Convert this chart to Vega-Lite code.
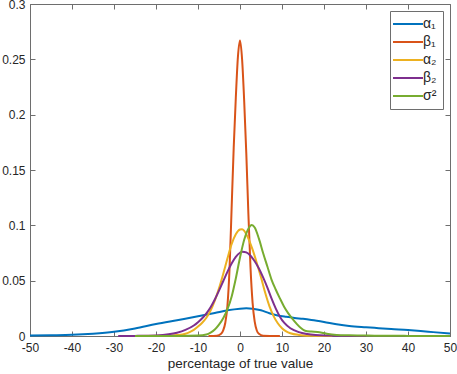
{
  "$schema": "https://vega.github.io/schema/vega-lite/v6.json",
  "width": 420,
  "height": 332,
  "autosize": "none",
  "padding": {"left": 30, "top": 4, "right": 7, "bottom": 38},
  "background": "white",
  "config": {
    "view": {"stroke": "#6e6e6e", "strokeWidth": 1},
    "font": "Liberation Sans",
    "axis": {
      "grid": false,
      "domainColor": "#6e6e6e",
      "tickColor": "#6e6e6e",
      "tickSize": -5,
      "labelColor": "#262626",
      "labelFontSize": 12,
      "labelFont": "Liberation Sans",
      "titleFont": "Liberation Sans",
      "titleColor": "#262626",
      "titleFontWeight": "normal",
      "labelOverlap": false,
      "labelFlush": false
    }
  },
  "data": {
    "values": [
      {"s": "α₁", "x": -50, "y": 0.0004}, {"s": "α₁", "x": -45, "y": 0.0007}, {"s": "α₁", "x": -40, "y": 0.0011}, {"s": "α₁", "x": -35, "y": 0.0021}, {"s": "α₁", "x": -30, "y": 0.0038}, {"s": "α₁", "x": -25, "y": 0.0068}, {"s": "α₁", "x": -20, "y": 0.0108}, {"s": "α₁", "x": -15, "y": 0.0143}, {"s": "α₁", "x": -10, "y": 0.0178}, {"s": "α₁", "x": -6, "y": 0.0208}, {"s": "α₁", "x": -3, "y": 0.0232}, {"s": "α₁", "x": 0, "y": 0.0247}, {"s": "α₁", "x": 1.5, "y": 0.025}, {"s": "α₁", "x": 3, "y": 0.0246}, {"s": "α₁", "x": 5, "y": 0.0232}, {"s": "α₁", "x": 7, "y": 0.0205}, {"s": "α₁", "x": 9, "y": 0.0185}, {"s": "α₁", "x": 11, "y": 0.0173}, {"s": "α₁", "x": 13, "y": 0.0163}, {"s": "α₁", "x": 15, "y": 0.0155}, {"s": "α₁", "x": 17, "y": 0.0145}, {"s": "α₁", "x": 20, "y": 0.0127}, {"s": "α₁", "x": 23, "y": 0.0107}, {"s": "α₁", "x": 26, "y": 0.0091}, {"s": "α₁", "x": 30, "y": 0.0079}, {"s": "α₁", "x": 33, "y": 0.0071}, {"s": "α₁", "x": 36, "y": 0.0063}, {"s": "α₁", "x": 40, "y": 0.0054}, {"s": "α₁", "x": 43, "y": 0.0045}, {"s": "α₁", "x": 46, "y": 0.0035}, {"s": "α₁", "x": 50, "y": 0.0022},

      {"s": "β₁", "x": -7.5, "y": 0}, {"s": "β₁", "x": -5.5, "y": 0.0003}, {"s": "β₁", "x": -4.5, "y": 0.002}, {"s": "β₁", "x": -4, "y": 0.005}, {"s": "β₁", "x": -3.5, "y": 0.012}, {"s": "β₁", "x": -3, "y": 0.027}, {"s": "β₁", "x": -2.5, "y": 0.06}, {"s": "β₁", "x": -2, "y": 0.115}, {"s": "β₁", "x": -1.5, "y": 0.17}, {"s": "β₁", "x": -1, "y": 0.215}, {"s": "β₁", "x": -0.5, "y": 0.252}, {"s": "β₁", "x": 0, "y": 0.267}, {"s": "β₁", "x": 0.5, "y": 0.25}, {"s": "β₁", "x": 1, "y": 0.212}, {"s": "β₁", "x": 1.5, "y": 0.165}, {"s": "β₁", "x": 2, "y": 0.11}, {"s": "β₁", "x": 2.5, "y": 0.062}, {"s": "β₁", "x": 3, "y": 0.03}, {"s": "β₁", "x": 3.5, "y": 0.013}, {"s": "β₁", "x": 4, "y": 0.005}, {"s": "β₁", "x": 4.5, "y": 0.002}, {"s": "β₁", "x": 5.5, "y": 0.0003}, {"s": "β₁", "x": 9.5, "y": 0},

      {"s": "α₂", "x": -25, "y": 0}, {"s": "α₂", "x": -18, "y": 0.0002}, {"s": "α₂", "x": -15, "y": 0.0008}, {"s": "α₂", "x": -13, "y": 0.002}, {"s": "α₂", "x": -12, "y": 0.0035}, {"s": "α₂", "x": -11, "y": 0.0055}, {"s": "α₂", "x": -10, "y": 0.0085}, {"s": "α₂", "x": -9, "y": 0.012}, {"s": "α₂", "x": -8, "y": 0.0165}, {"s": "α₂", "x": -7, "y": 0.023}, {"s": "α₂", "x": -6, "y": 0.032}, {"s": "α₂", "x": -5, "y": 0.043}, {"s": "α₂", "x": -4, "y": 0.056}, {"s": "α₂", "x": -3, "y": 0.07}, {"s": "α₂", "x": -2, "y": 0.083}, {"s": "α₂", "x": -1, "y": 0.092}, {"s": "α₂", "x": 0, "y": 0.0962}, {"s": "α₂", "x": 0.5, "y": 0.0965}, {"s": "α₂", "x": 1, "y": 0.095}, {"s": "α₂", "x": 2, "y": 0.088}, {"s": "α₂", "x": 3, "y": 0.078}, {"s": "α₂", "x": 4, "y": 0.066}, {"s": "α₂", "x": 5, "y": 0.053}, {"s": "α₂", "x": 6, "y": 0.039}, {"s": "α₂", "x": 7, "y": 0.027}, {"s": "α₂", "x": 8, "y": 0.018}, {"s": "α₂", "x": 9, "y": 0.0115}, {"s": "α₂", "x": 10, "y": 0.007}, {"s": "α₂", "x": 11, "y": 0.0042}, {"s": "α₂", "x": 12, "y": 0.0025}, {"s": "α₂", "x": 14, "y": 0.001}, {"s": "α₂", "x": 17, "y": 0.0003}, {"s": "α₂", "x": 22, "y": 0},

      {"s": "β₂", "x": -29, "y": 0}, {"s": "β₂", "x": -25, "y": 0.0001}, {"s": "β₂", "x": -20, "y": 0.0005}, {"s": "β₂", "x": -17, "y": 0.0015}, {"s": "β₂", "x": -15, "y": 0.003}, {"s": "β₂", "x": -13, "y": 0.0055}, {"s": "β₂", "x": -11, "y": 0.0095}, {"s": "β₂", "x": -10, "y": 0.0125}, {"s": "β₂", "x": -9, "y": 0.016}, {"s": "β₂", "x": -8, "y": 0.0205}, {"s": "β₂", "x": -7, "y": 0.026}, {"s": "β₂", "x": -6, "y": 0.033}, {"s": "β₂", "x": -5, "y": 0.041}, {"s": "β₂", "x": -4, "y": 0.0495}, {"s": "β₂", "x": -3, "y": 0.058}, {"s": "β₂", "x": -2, "y": 0.0655}, {"s": "β₂", "x": -1, "y": 0.0715}, {"s": "β₂", "x": 0, "y": 0.0752}, {"s": "β₂", "x": 0.6, "y": 0.0762}, {"s": "β₂", "x": 1.5, "y": 0.0755}, {"s": "β₂", "x": 2.5, "y": 0.0725}, {"s": "β₂", "x": 3.5, "y": 0.0675}, {"s": "β₂", "x": 4.5, "y": 0.061}, {"s": "β₂", "x": 5.5, "y": 0.053}, {"s": "β₂", "x": 6.5, "y": 0.044}, {"s": "β₂", "x": 7.5, "y": 0.034}, {"s": "β₂", "x": 8.5, "y": 0.025}, {"s": "β₂", "x": 9.5, "y": 0.0175}, {"s": "β₂", "x": 10.5, "y": 0.012}, {"s": "β₂", "x": 12, "y": 0.007}, {"s": "β₂", "x": 14, "y": 0.0035}, {"s": "β₂", "x": 16, "y": 0.0018}, {"s": "β₂", "x": 18, "y": 0.0009}, {"s": "β₂", "x": 21, "y": 0.0004}, {"s": "β₂", "x": 25, "y": 0.0001}, {"s": "β₂", "x": 30, "y": 0},

      {"s": "σ²", "x": -25, "y": 0}, {"s": "σ²", "x": -15, "y": 0.0001}, {"s": "σ²", "x": -10, "y": 0.0004}, {"s": "σ²", "x": -8, "y": 0.0013}, {"s": "σ²", "x": -7, "y": 0.003}, {"s": "σ²", "x": -6, "y": 0.0058}, {"s": "σ²", "x": -5, "y": 0.0102}, {"s": "σ²", "x": -4, "y": 0.016}, {"s": "σ²", "x": -3, "y": 0.024}, {"s": "σ²", "x": -2, "y": 0.0355}, {"s": "σ²", "x": -1, "y": 0.052}, {"s": "σ²", "x": 0, "y": 0.071}, {"s": "σ²", "x": 1, "y": 0.087}, {"s": "σ²", "x": 2, "y": 0.097}, {"s": "σ²", "x": 2.8, "y": 0.1003}, {"s": "σ²", "x": 3.5, "y": 0.098}, {"s": "σ²", "x": 4.5, "y": 0.088}, {"s": "σ²", "x": 5.5, "y": 0.075}, {"s": "σ²", "x": 6.5, "y": 0.063}, {"s": "σ²", "x": 7.5, "y": 0.051}, {"s": "σ²", "x": 8.5, "y": 0.042}, {"s": "σ²", "x": 9.5, "y": 0.034}, {"s": "σ²", "x": 10.5, "y": 0.0265}, {"s": "σ²", "x": 11.5, "y": 0.0205}, {"s": "σ²", "x": 12.5, "y": 0.0155}, {"s": "σ²", "x": 13.5, "y": 0.011}, {"s": "σ²", "x": 14.5, "y": 0.0072}, {"s": "σ²", "x": 15.5, "y": 0.0048}, {"s": "σ²", "x": 17, "y": 0.004}, {"s": "σ²", "x": 18.5, "y": 0.0036}, {"s": "σ²", "x": 19.5, "y": 0.003}, {"s": "σ²", "x": 21, "y": 0.0018}, {"s": "σ²", "x": 23, "y": 0.001}, {"s": "σ²", "x": 26, "y": 0.0006}, {"s": "σ²", "x": 32, "y": 0.0003}, {"s": "σ²", "x": 40, "y": 0.0001}, {"s": "σ²", "x": 50, "y": 0}
    ]
  },
  "layer": [
    {
      "mark": {"type": "line", "strokeWidth": 2, "interpolate": "monotone"},
      "encoding": {
        "x": {
          "field": "x", "type": "quantitative",
          "scale": {"domain": [-50, 50], "nice": false},
          "axis": {"values": [-50, -40, -30, -20, -10, 0, 10, 20, 30, 40, 50], "labelExpr": "'' + datum.value", "labelPadding": 11, "title": "percentage of true value", "titleFontSize": 13.5, "titlePadding": 3}
        },
        "y": {
          "field": "y", "type": "quantitative",
          "scale": {"domain": [0, 0.3], "nice": false},
          "axis": {"values": [0, 0.05, 0.1, 0.15, 0.2, 0.25, 0.3], "format": ".2~f", "labelPadding": 10, "title": null}
        },
        "color": {
          "field": "s", "type": "nominal",
          "scale": {"domain": ["α₁", "β₁", "α₂", "β₂", "σ²"], "range": ["#0072BD", "#D95319", "#EDB120", "#7E2F8E", "#77AC30"]},
          "legend": {
            "title": null,
            "orient": "top-right",
            "offset": 7,
            "symbolType": "M-2,0H4",
            "symbolSize": 100,
            "symbolStrokeWidth": 2,
            "labelFontSize": 14,
            "labelColor": "#262626",
            "labelFont": "Liberation Sans",
            "labelOffset": 13,
            "strokeColor": "#6e6e6e",
            "fillColor": "white",
            "padding": 6,
            "rowPadding": 4
          }
        }
      }
    },
    {
      "mark": {"type": "line", "opacity": 0},
      "encoding": {
        "x": {"field": "x", "type": "quantitative", "axis": {"orient": "top", "values": [-50, -40, -30, -20, -10, 0, 10, 20, 30, 40, 50], "labels": false, "title": null, "domain": false}},
        "y": {"field": "y", "type": "quantitative", "axis": {"orient": "right", "values": [0, 0.05, 0.1, 0.15, 0.2, 0.25, 0.3], "labels": false, "title": null, "domain": false}}
      }
    }
  ],
  "resolve": {"axis": {"x": "independent", "y": "independent"}}
}
